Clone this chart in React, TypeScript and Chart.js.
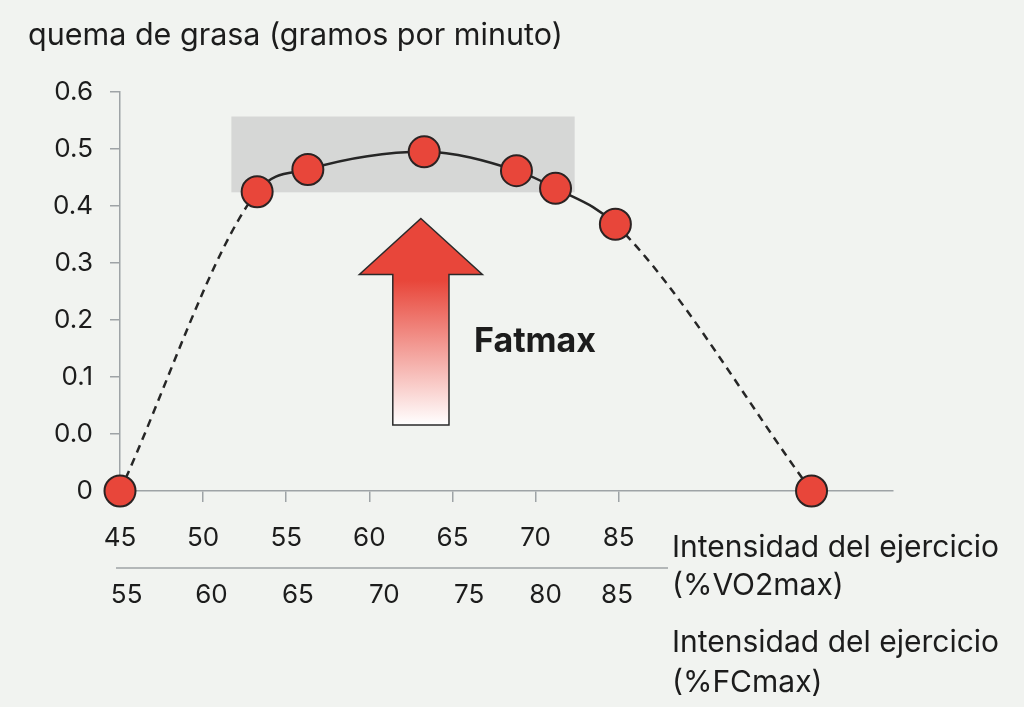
import { useEffect, useRef } from 'react';
import { Chart, registerables } from 'chart.js';

Chart.register(...registerables);

// x positions of the %VO2max ticks on the scale, and what they read
const vo2Ticks = [45, 50, 55, 60, 65, 70, 75];
const vo2Labels = ['45', '50', '55', '60', '65', '70', '85'];
// second row (%FCmax), placed along the same scale
const fcPositions = [45.4, 50.5, 55.7, 60.9, 66.0, 70.6, 74.9];
const fcLabels = ['55', '60', '65', '70', '75', '80', '85'];

// y ticks: the bottom one is labelled "0", one step under "0.0"
const yTicks = [-0.1, 0, 0.1, 0.2, 0.3, 0.4, 0.5, 0.6];
const yLabels = ['0', '0.0', '0.1', '0.2', '0.3', '0.4', '0.5', '0.6'];

const intensity = [45, 53.25, 56.3, 63.3, 68.85, 71.2, 74.8, 86.6];
const fatBurn = [-0.1, 0.425, 0.464, 0.495, 0.462, 0.431, 0.368, -0.1];

// grey Fatmax band and the arrow, in data units
const zone = { xMin: 51.7, xMax: 72.35, yMin: 0.424, yMax: 0.557 };
const arrow = { x: 63.1, tip: 0.378, headBase: 0.28, base: 0.016, headHalf: 3.7, shaftHalf: 1.69 };

const TEXT = '#1c1c1c';
const AXIS = '#9ea3a6';
const BG = '#f1f3f0';
const FONT = 'Inter, "Noto Sans", sans-serif';

const decorations = {
  id: 'decorations',
  beforeDatasetsDraw(chart: Chart) {
    const { ctx } = chart;
    const x = chart.scales.x;
    const y = chart.scales.y;
    ctx.save();

    // Fatmax zone
    ctx.fillStyle = '#d6d7d6';
    const zx = x.getPixelForValue(zone.xMin);
    const zy = y.getPixelForValue(zone.yMax);
    ctx.fillRect(zx, zy, x.getPixelForValue(zone.xMax) - zx, y.getPixelForValue(zone.yMin) - zy);

    // arrow
    const cx = x.getPixelForValue(arrow.x);
    const hh = x.getPixelForValue(arrow.x + arrow.headHalf) - cx;
    const sh = x.getPixelForValue(arrow.x + arrow.shaftHalf) - cx;
    const tipY = y.getPixelForValue(arrow.tip);
    const headY = y.getPixelForValue(arrow.headBase);
    const baseY = y.getPixelForValue(arrow.base);
    const grad = ctx.createLinearGradient(0, tipY, 0, baseY);
    grad.addColorStop(0, '#e8463a');
    grad.addColorStop(0.3, '#e8463a');
    grad.addColorStop(1, '#ffffff');
    ctx.beginPath();
    ctx.moveTo(cx, tipY);
    ctx.lineTo(cx + hh, headY);
    ctx.lineTo(cx + sh, headY);
    ctx.lineTo(cx + sh, baseY);
    ctx.lineTo(cx - sh, baseY);
    ctx.lineTo(cx - sh, headY);
    ctx.lineTo(cx - hh, headY);
    ctx.closePath();
    ctx.fillStyle = grad;
    ctx.fill();
    ctx.strokeStyle = '#2a2a2a';
    ctx.lineWidth = 1.5;
    ctx.stroke();
    ctx.restore();
  },
  afterDraw(chart: Chart) {
    const { ctx } = chart;
    const x = chart.scales.x;
    ctx.save();
    ctx.fillStyle = TEXT;
    ctx.textBaseline = 'alphabetic';

    ctx.font = `30.5px ${FONT}`;
    ctx.textAlign = 'left';
    ctx.fillText('quema de grasa (gramos por minuto)', 28, 45);

    ctx.font = `bold 34px ${FONT}`;
    ctx.fillText('Fatmax', 474, 352);

    // separator between the two x rows
    ctx.strokeStyle = AXIS;
    ctx.lineWidth = 1.5;
    ctx.beginPath();
    ctx.moveTo(116, 568);
    ctx.lineTo(668, 568);
    ctx.stroke();

    // %FCmax row
    ctx.font = `26px ${FONT}`;
    ctx.textAlign = 'center';
    ctx.textBaseline = 'middle';
    fcLabels.forEach((l, i) => {
      ctx.fillText(l, x.getPixelForValue(fcPositions[i]), 595);
    });

    // axis titles
    ctx.font = `30px ${FONT}`;
    ctx.textAlign = 'left';
    ctx.textBaseline = 'alphabetic';
    ctx.fillText('Intensidad del ejercicio', 672, 557);
    ctx.fillText('(%VO2max)', 672, 595);
    ctx.fillText('Intensidad del ejercicio', 672, 652);
    ctx.fillText('(%FCmax)', 672, 692);
    ctx.restore();
  },
};

export default function App() {
  const canvasRef = useRef<HTMLCanvasElement>(null);
  const chartRef = useRef<Chart | null>(null);

  useEffect(() => {
    if (!canvasRef.current) return;
    if (chartRef.current) chartRef.current.destroy();
    document.body.style.margin = '0';

    Chart.defaults.font.family = FONT;
    Chart.defaults.color = TEXT;

    chartRef.current = new Chart(canvasRef.current, {
      type: 'line',
      data: {
        datasets: [
          {
            data: intensity.map((v, i) => ({ x: v, y: fatBurn[i] })),
            borderColor: '#262626',
            borderWidth: 2.5,
            cubicInterpolationMode: 'monotone',
            pointRadius: 15.5,
            pointBackgroundColor: '#e8463a',
            pointBorderColor: '#2b2323',
            pointBorderWidth: 2,
            clip: false,
            segment: {
              borderDash: (c: any) =>
                c.p0DataIndex === 0 || c.p1DataIndex === intensity.length - 1 ? [8, 6] : undefined,
            },
          },
        ],
      },
      options: {
        animation: false,
        responsive: true,
        maintainAspectRatio: false,
        layout: { padding: { top: 92, right: 131, left: 0, bottom: 0 } },
        plugins: { legend: { display: false }, tooltip: { enabled: false } },
        scales: {
          x: {
            type: 'linear',
            min: 45,
            max: 91.5,
            afterBuildTicks: (s: any) => {
              s.ticks = vo2Ticks.map((v) => ({ value: v }));
            },
            afterFit: (s: any) => {
              s.height = 216;
            },
            ticks: {
              autoSkip: false,
              maxRotation: 0,
              padding: 21,
              font: { size: 26 },
              color: TEXT,
              callback: (_v: any, i: number) => vo2Labels[i],
            },
            grid: { drawOnChartArea: false, drawTicks: true, tickLength: 11, color: AXIS, lineWidth: 1.5 },
            border: { display: true, color: AXIS, width: 1.5 },
          },
          y: {
            type: 'linear',
            min: -0.1,
            max: 0.6,
            afterBuildTicks: (s: any) => {
              s.ticks = yTicks.map((v) => ({ value: v }));
            },
            afterFit: (s: any) => {
              s.width = 120;
            },
            ticks: {
              autoSkip: false,
              padding: 17,
              font: { size: 26 },
              color: TEXT,
              callback: (_v: any, i: number) => yLabels[i],
            },
            grid: { drawOnChartArea: false, drawTicks: true, tickLength: 10, color: AXIS, lineWidth: 1.5 },
            border: { display: true, color: AXIS, width: 1.5 },
          },
        },
      },
      plugins: [decorations],
    });

    return () => {
      if (chartRef.current) {
        chartRef.current.destroy();
        chartRef.current = null;
      }
    };
  }, []);

  return (
    <div style={{ position: 'fixed', left: 0, top: 0, width: 1024, height: 707, background: BG }}>
      <canvas ref={canvasRef}></canvas>
    </div>
  );
}
